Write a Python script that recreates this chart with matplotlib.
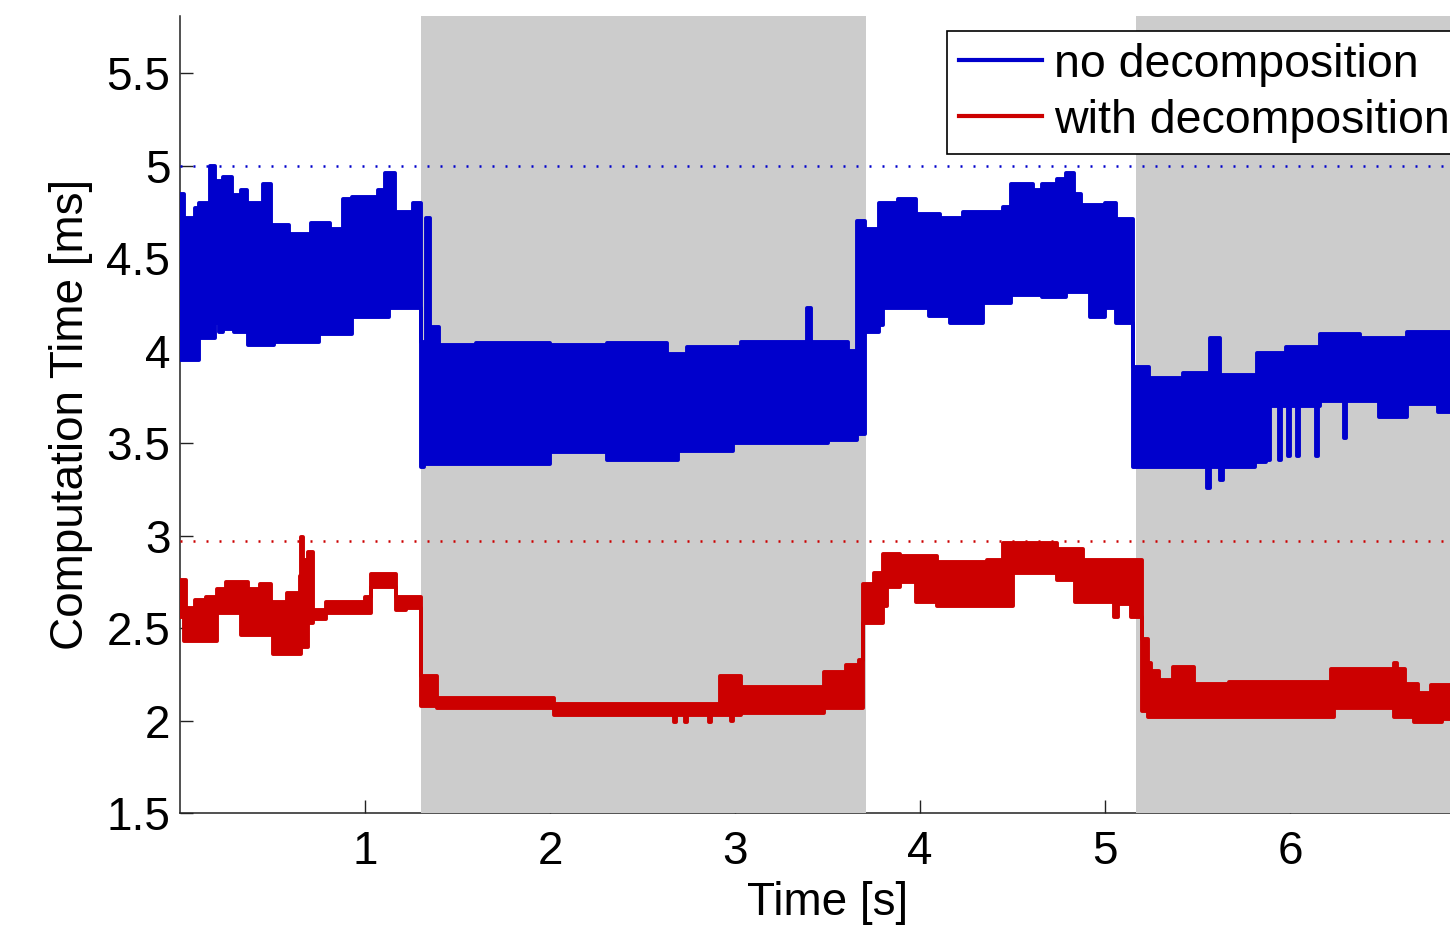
import matplotlib
matplotlib.use("Agg")
import matplotlib.pyplot as plt
from matplotlib.lines import Line2D

# ---------------- data ----------------
# envelope of "no decomposition" (step-wise, x = start of each step)
blue_x = [0.00, 0.02, 0.08, 0.10, 0.16, 0.19, 0.21, 0.23, 0.28, 0.29, 0.33, 0.36, 0.37,
          0.45, 0.49, 0.51, 0.59, 0.71, 0.75, 0.81, 0.88, 0.93, 1.07, 1.11, 1.13, 1.16,
          1.26, 1.30, 1.32, 1.33, 1.35, 1.40, 1.60, 2.00, 2.31, 2.63, 2.69, 2.74, 2.99,
          3.03, 3.39, 3.41, 3.50, 3.61, 3.66, 3.70, 3.78, 3.80, 3.88, 3.98, 4.05, 4.11,
          4.16, 4.23, 4.34, 4.45, 4.49, 4.61, 4.66, 4.74, 4.79, 4.83, 4.87, 4.92, 5.00,
          5.06, 5.15, 5.24, 5.42, 5.55, 5.57, 5.62, 5.64, 5.81, 5.82, 5.87, 5.88, 5.89,
          5.94, 5.95, 5.98, 5.99, 6.00, 6.04, 6.05, 6.14, 6.15, 6.16, 6.29, 6.30, 6.38,
          6.48, 6.63, 6.80, 6.90]
blue_hi = [4.85, 4.72, 4.77, 4.80, 5.00, 4.92, 4.92, 4.94, 4.84, 4.84, 4.87, 4.80, 4.80,
           4.90, 4.68, 4.68, 4.63, 4.69, 4.69, 4.66, 4.82, 4.83, 4.87, 4.96, 4.96, 4.75,
           4.80, 4.05, 4.05, 4.72, 4.13, 4.03, 4.04, 4.03, 4.04, 3.98, 3.98, 4.02, 4.02,
           4.05, 4.23, 4.05, 4.05, 4.00, 4.70, 4.66, 4.80, 4.80, 4.82, 4.74, 4.74, 4.72,
           4.72, 4.75, 4.75, 4.78, 4.90, 4.87, 4.90, 4.93, 4.96, 4.85, 4.79, 4.79, 4.80,
           4.71, 3.91, 3.85, 3.88, 3.88, 4.07, 3.87, 3.87, 3.87, 3.99, 3.99, 3.99, 3.99,
           3.99, 3.99, 4.02, 4.02, 4.02, 4.02, 4.02, 4.02, 4.02, 4.09, 4.09, 4.09, 4.07,
           4.07, 4.10, 4.10, 4.10]
blue_lo = [3.95, 3.95, 3.95, 4.07, 4.07, 4.15, 4.10, 4.12, 4.12, 4.10, 4.10, 4.10, 4.03,
           4.03, 4.03, 4.05, 4.05, 4.05, 4.09, 4.09, 4.09, 4.18, 4.18, 4.18, 4.23, 4.23,
           4.23, 3.37, 3.39, 3.39, 3.39, 3.39, 3.39, 3.45, 3.41, 3.41, 3.46, 3.46, 3.50,
           3.50, 3.50, 3.50, 3.52, 3.52, 3.55, 4.10, 4.14, 4.23, 4.23, 4.23, 4.19, 4.19,
           4.15, 4.15, 4.26, 4.26, 4.30, 4.30, 4.29, 4.29, 4.32, 4.32, 4.32, 4.18, 4.23,
           4.15, 3.37, 3.37, 3.37, 3.26, 3.37, 3.30, 3.37, 3.40, 3.40, 3.70, 3.41, 3.70,
           3.41, 3.70, 3.70, 3.43, 3.70, 3.43, 3.70, 3.43, 3.70, 3.73, 3.53, 3.73, 3.73,
           3.64, 3.71, 3.67, 3.67]

# envelope of "with decomposition"
red_x = [0.00, 0.02, 0.03, 0.08, 0.14, 0.20, 0.25, 0.33, 0.37, 0.43, 0.49, 0.50, 0.58,
         0.65, 0.655, 0.665, 0.69, 0.72, 0.79, 1.00, 1.03, 1.17, 1.22, 1.30, 1.39, 2.02,
         2.66, 2.67, 2.68, 2.73, 2.74, 2.86, 2.87, 2.92, 2.98, 2.99, 3.03, 3.48, 3.60,
         3.67, 3.69, 3.75, 3.80, 3.82, 3.89, 3.98, 4.09, 4.36, 4.45, 4.50, 4.74, 4.84,
         4.88, 5.05, 5.07, 5.14, 5.20, 5.23, 5.25, 5.29, 5.37, 5.48, 5.67, 6.22, 6.24,
         6.56, 6.58, 6.62, 6.67, 6.69, 6.76, 6.82, 6.90]
red_hi = [2.76, 2.76, 2.61, 2.65, 2.67, 2.71, 2.75, 2.75, 2.71, 2.74, 2.64, 2.64, 2.69,
          2.78, 2.99, 2.87, 2.91, 2.60, 2.64, 2.67, 2.79, 2.67, 2.67, 2.24, 2.12, 2.09,
          2.09, 2.09, 2.09, 2.09, 2.09, 2.09, 2.09, 2.24, 2.24, 2.24, 2.18, 2.26, 2.30,
          2.33, 2.74, 2.80, 2.90, 2.90, 2.89, 2.89, 2.86, 2.87, 2.96, 2.96, 2.93, 2.93,
          2.87, 2.87, 2.87, 2.87, 2.44, 2.31, 2.27, 2.22, 2.29, 2.20, 2.21, 2.28, 2.28,
          2.31, 2.28, 2.20, 2.20, 2.15, 2.19, 2.19, 2.19]
red_lo = [2.56, 2.43, 2.43, 2.43, 2.43, 2.58, 2.58, 2.46, 2.46, 2.46, 2.46, 2.36, 2.36,
          2.36, 2.40, 2.40, 2.53, 2.55, 2.58, 2.58, 2.72, 2.60, 2.61, 2.08, 2.07, 2.03,
          2.03, 1.99, 2.03, 1.99, 2.03, 1.99, 2.03, 2.03, 2.00, 2.03, 2.04, 2.07, 2.07,
          2.07, 2.53, 2.53, 2.62, 2.72, 2.75, 2.64, 2.62, 2.62, 2.62, 2.80, 2.76, 2.64,
          2.64, 2.56, 2.63, 2.56, 2.05, 2.02, 2.02, 2.02, 2.02, 2.02, 2.02, 2.02, 2.07,
          2.02, 2.02, 2.02, 1.99, 1.99, 1.99, 2.01, 2.01]

limit_blue = 5.0
limit_red = 2.97
gray_spans = [(1.303, 3.708), (5.168, 7.5)]
x_ticks = [1, 2, 3, 4, 5, 6]
y_ticks = [1.5, 2, 2.5, 3, 3.5, 4, 4.5, 5, 5.5]
y_ticklabels = ["1.5", "2", "2.5", "3", "3.5", "4", "4.5", "5", "5.5"]
series_labels = ["no decomposition", "with decomposition"]

BLUE = "#0000CC"
RED = "#CC0000"
GRAY = "#CCCCCC"

plt.rcParams["font.family"] = ["Liberation Sans", "DejaVu Sans"]

fig = plt.figure(figsize=(14.5, 9.25), dpi=100)
W, H = 1450.0, 925.0
ax = fig.add_axes([180 / W, 112 / H, 1295 / W, 797 / H])
ax.set_xlim(0, 7)
ax.set_ylim(1.5, 1.5 + 797 / 184.9)

for a, b in gray_spans:
    ax.axvspan(a, b, color=GRAY, lw=0, zorder=2.6)

ax.axhline(limit_blue, color=BLUE, lw=1.8, ls=(0, (0.8, 4.4)), zorder=2.7)
ax.axhline(limit_red, color=RED, lw=1.8, ls=(0, (0.8, 4.4)), zorder=2.7)

for xs, lo, hi, c in [(blue_x, blue_lo, blue_hi, BLUE), (red_x, red_lo, red_hi, RED)]:
    ax.fill_between(xs, lo, hi, step="post", color=c, lw=0, zorder=3)
    for ys in (lo, hi):
        ax.plot(xs, ys, drawstyle="steps-post", color=c, lw=2.8,
                solid_joinstyle="round", solid_capstyle="round", zorder=3.2)

ax.spines["top"].set_visible(False)
ax.spines["right"].set_visible(False)
for s in ("left", "bottom"):
    ax.spines[s].set_linewidth(1.1)
    ax.spines[s].set_color("#222222")

ax.set_xticks(x_ticks)
ax.set_xticklabels([str(t) for t in x_ticks])
ax.set_yticks(y_ticks)
ax.set_yticklabels(y_ticklabels)
ax.tick_params(direction="in", length=9.5, width=1.0, labelsize=33, color="#222222")
ax.tick_params(axis="y", pad=7)
ax.tick_params(axis="x", pad=12)

ax.set_xlabel("Time [s]", fontsize=33, labelpad=5)
ax.set_ylabel("Computation Time [ms]", fontsize=33, labelpad=10)

handles = [Line2D([], [], color=BLUE, lw=3), Line2D([], [], color=RED, lw=3)]
leg = fig.legend(handles, series_labels, loc="upper left",
                 bbox_to_anchor=(947 / W, 1 - 31 / H), fontsize=33.5,
                 frameon=True, fancybox=False, edgecolor="black", framealpha=1,
                 handlelength=1.8, handletextpad=0.25, borderpad=0.25,
                 labelspacing=0.26, borderaxespad=0)
leg.get_frame().set_linewidth(1.2)

fig.savefig("out.png", dpi=100)
